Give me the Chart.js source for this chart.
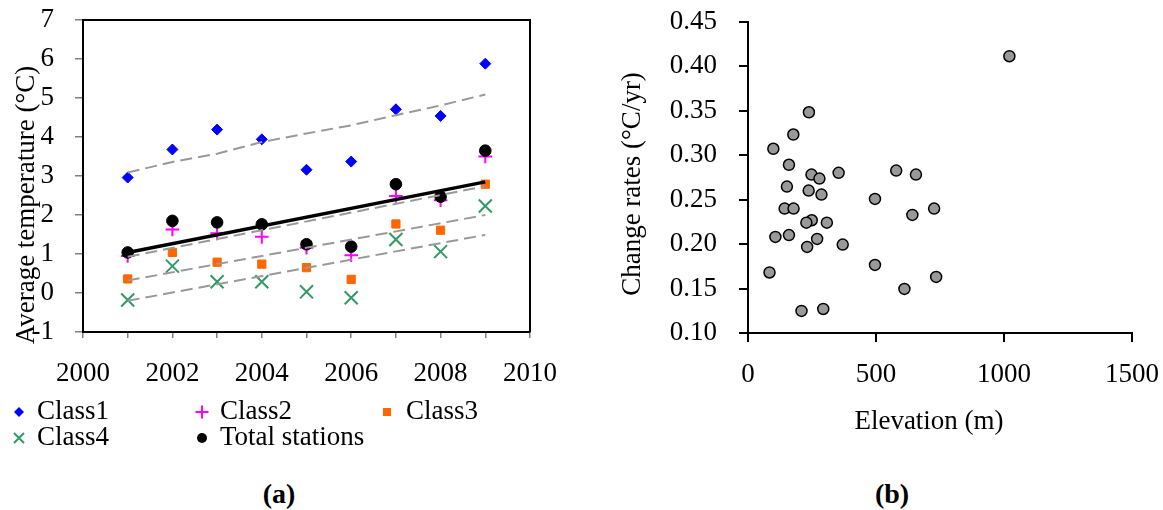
<!DOCTYPE html>
<html><head><meta charset="utf-8">
<script src="https://cdn.jsdelivr.net/npm/chart.js@4/dist/chart.umd.min.js"></script>
<style>
html,body{margin:0;padding:0;background:#fff;width:1163px;height:510px;overflow:hidden;font-family:"Liberation Serif","Times New Roman",serif;}
#wa{position:absolute;left:0;top:0;width:560px;height:400px;}
#wb{position:absolute;left:590px;top:0;width:573px;height:460px;}
.lt{position:absolute;font-size:27px;line-height:27px;color:#000;white-space:nowrap;}
.lm{position:absolute;}
.cap{position:absolute;font-weight:bold;font-size:28px;line-height:28px;transform:translate(-50%,-50%);}
</style></head><body>
<div id="wa"><canvas id="ca"></canvas></div>
<div id="wb"><canvas id="cb"></canvas></div>
<div id="legend"></div>
<div class="cap" style="left:279px;top:494px">(a)</div>
<div class="cap" style="left:892px;top:494px">(b)</div>
<script>
// ---------- Panel (a) data ----------
const years = [2001, 2002, 2003, 2004, 2005, 2006, 2007, 2008, 2009];
const class1 = [2.96, 3.68, 4.19, 3.94, 3.16, 3.37, 4.71, 4.54, 5.88];
const class2 = [0.95, 1.63, 1.53, 1.44, 1.16, 0.97, 2.49, 2.38, 3.50];
const class3 = [0.36, 1.04, 0.79, 0.74, 0.65, 0.35, 1.77, 1.61, 2.79];
const class4 = [-0.18, 0.69, 0.29, 0.29, 0.03, -0.12, 1.37, 1.06, 2.23];
const totalStations = [1.04, 1.85, 1.81, 1.76, 1.25, 1.19, 2.79, 2.47, 3.65];
// trend lines
const trend1 = [3.09, 3.36, 3.57, 3.87, 4.09, 4.30, 4.56, 4.81, 5.09];
const trendYears = [2001, 2009];
const trend2 = [0.93, 2.74];
const trend3 = [0.32, 2.00];
const trend4 = [-0.20, 1.49];
const trendTotal = [1.04, 2.85];
const seriesNames = ['Class1', 'Class2', 'Class3', 'Class4', 'Total stations'];
const yTicksA = [-1, 0, 1, 2, 3, 4, 5, 6, 7];
const xTicksA = [2000, 2002, 2004, 2006, 2008, 2010];

// ---------- Panel (b) data ----------
const elevation = [1021, 238, 177, 99, 160, 248, 279, 354, 579, 656, 152, 237, 287, 496, 143, 178, 727, 642, 249, 228, 308, 107, 160, 270, 231, 370, 84, 496, 735, 611, 209, 294];
const changeRate = [0.411, 0.348, 0.323, 0.307, 0.289, 0.278, 0.2735, 0.280, 0.2825, 0.278, 0.2645, 0.260, 0.2555, 0.2507, 0.2398, 0.2398, 0.2398, 0.2327, 0.2267, 0.224, 0.224, 0.208, 0.210, 0.2057, 0.1967, 0.1993, 0.168, 0.1765, 0.163, 0.1495, 0.1248, 0.127];
const yTicksB = [0.10, 0.15, 0.20, 0.25, 0.30, 0.35, 0.40, 0.45];
const xTicksB = [0, 500, 1000, 1500];

const FONT = '"Liberation Serif", "Times New Roman", serif';
Chart.defaults.font.family = FONT;
const toXY = (xs, ys) => xs.map((x, i) => ({x: x, y: ys[i]}));

const textPlugin = {
  id: 'texts',
  afterDraw(chart, args, opts) {
    const ctx = chart.ctx;
    (opts.items || []).forEach(t => {
      ctx.save();
      ctx.translate(t.x, t.y);
      if (t.rot) ctx.rotate(t.rot);
      ctx.font = t.size + 'px ' + FONT;
      ctx.fillStyle = '#000';
      ctx.textAlign = 'center';
      ctx.textBaseline = 'middle';
      ctx.fillText(t.text, 0, 0);
      ctx.restore();
    });
  }
};
const boxPlugin = {
  id: 'box',
  afterDatasetsDraw(chart, args, opts) {
    if (!opts.on) return;
    const a = chart.chartArea, ctx = chart.ctx;
    ctx.save();
    ctx.strokeStyle = '#000';
    ctx.lineWidth = 2;
    ctx.beginPath();
    ctx.moveTo(a.left, a.top); ctx.lineTo(a.right, a.top); ctx.lineTo(a.right, a.bottom);
    ctx.stroke();
    ctx.restore();
  }
};

const markerDs = (label, data, style, color, radius, order, extra) => Object.assign({
  label: label, data: toXY(years, data), pointStyle: style, pointRadius: radius,
  pointBackgroundColor: color, pointBorderColor: color, pointBorderWidth: 1,
  showLine: false, order: order
}, extra || {});
const trendDs = (xs, ys, dash, color, width) => ({
  data: toXY(xs, ys), showLine: true, pointRadius: 0, borderColor: color,
  borderWidth: width, borderDash: dash, fill: false, order: 0, tension: 0
});
const fixX = h => s => { s.height = h; s.paddingLeft = 0; s.paddingRight = 0; };
const fixY = w => s => { s.width = w; s.paddingTop = 0; s.paddingBottom = 0; };

new Chart(document.getElementById('ca'), {
  type: 'scatter',
  data: {
    datasets: [
      markerDs(seriesNames[0], class1, 'rectRot', '#0000FF', 5.5, 5),
      markerDs(seriesNames[2], class3, 'rect', '#FF6600', 5.8, 4),
      markerDs(seriesNames[3], class4, 'crossRot', '#339966', 9.2, 3, {pointBorderWidth: 2}),
      markerDs(seriesNames[1], class2, 'cross', '#FF00FF', 6.8, 2, {pointBorderWidth: 2}),
      markerDs(seriesNames[4], totalStations, 'circle', '#000000', 5.8, 1),
      trendDs(years, trend1, [12, 6], '#999999', 2),
      trendDs(trendYears, trend2, [12, 6], '#999999', 2),
      trendDs(trendYears, trend3, [12, 6], '#999999', 2),
      trendDs(trendYears, trend4, [12, 6], '#999999', 2),
      trendDs(trendYears, trendTotal, [], '#000000', 3.5)
    ]
  },
  options: {
    responsive: true, maintainAspectRatio: false, animation: false,
    layout: {padding: {top: 20, right: 30, left: 0, bottom: 0}},
    plugins: {
      legend: {display: false}, tooltip: {enabled: false},
      box: {on: true},
      texts: {items: [{text: 'Average temperature (°C)', x: 27, y: 205, rot: -Math.PI / 2, size: 27}]}
    },
    scales: {
      x: {
        type: 'linear', min: 2000, max: 2010,
        afterBuildTicks: s => { s.ticks = years.concat([2000, 2010]).sort((a, b) => a - b).map(v => ({value: v})); },
        ticks: {
          autoSkip: false, maxRotation: 0, padding: 20, color: '#000',
          font: {family: FONT, size: 27},
          callback: v => xTicksA.includes(v) ? String(v) : ''
        },
        grid: {drawOnChartArea: false, drawTicks: true, tickLength: 6, color: '#808080', lineWidth: 1.5},
        border: {color: '#000', width: 2},
        afterFit: fixX(68)
      },
      y: {
        min: -1, max: 7,
        afterBuildTicks: s => { s.ticks = yTicksA.map(v => ({value: v})); },
        ticks: {padding: 21, color: '#000', font: {family: FONT, size: 27}, callback: v => String(v)},
        grid: {drawOnChartArea: false, drawTicks: true, tickLength: 8, color: '#808080', lineWidth: 1.5},
        border: {color: '#000', width: 2},
        afterFit: fixY(83)
      }
    }
  },
  plugins: [textPlugin, boxPlugin]
});

new Chart(document.getElementById('cb'), {
  type: 'scatter',
  data: {
    datasets: [{
      data: toXY(elevation, changeRate), pointStyle: 'circle', pointRadius: 5.5,
      pointBackgroundColor: '#999999', pointBorderColor: '#000000', pointBorderWidth: 1.5
    }]
  },
  options: {
    responsive: true, maintainAspectRatio: false, animation: false,
    layout: {padding: {top: 21.5, right: 31, left: 0, bottom: 0}},
    plugins: {
      legend: {display: false}, tooltip: {enabled: false},
      texts: {items: [
        {text: 'Change rates (°C/yr)', x: 43, y: 184, rot: -Math.PI / 2, size: 27},
        {text: 'Elevation (m)', x: 339, y: 422, size: 27}
      ]}
    },
    scales: {
      x: {
        type: 'linear', min: 0, max: 1500,
        afterBuildTicks: s => { s.ticks = xTicksB.map(v => ({value: v})); },
        ticks: {maxRotation: 0, padding: 17, color: '#000', font: {family: FONT, size: 27}, callback: v => String(v)},
        grid: {drawOnChartArea: false, drawTicks: true, tickLength: 9, color: '#000', lineWidth: 2},
        border: {color: '#000', width: 2},
        afterFit: fixX(127)
      },
      y: {
        min: 0.10, max: 0.45,
        afterBuildTicks: s => { s.ticks = yTicksB.map(v => ({value: v})); },
        ticks: {padding: 22, color: '#000', font: {family: FONT, size: 27}, callback: v => Number(v).toFixed(2)},
        grid: {drawOnChartArea: false, drawTicks: true, tickLength: 9, color: '#000', lineWidth: 2},
        border: {color: '#000', width: 2},
        afterFit: fixY(158)
      }
    }
  },
  plugins: [textPlugin]
});

// ---------- HTML legend for panel (a) ----------
const legendPos = [
  {mx: 19, tx: 37, y: 412}, {mx: 202, tx: 220, y: 412}, {mx: 387, tx: 406, y: 412},
  {mx: 19, tx: 37, y: 438}, {mx: 202, tx: 220, y: 438}
];
const glyphs = [
  '<polygon points="10,5 15,10 10,15 5,10" fill="#0000FF"/>',
  '<path d="M10,3.5V16.5M3.5,10H16.5" stroke="#FF00FF" stroke-width="2" fill="none"/>',
  '<rect x="6" y="6" width="8" height="8" fill="#FF6600"/>',
  '<path d="M5,5L15,15M15,5L5,15" stroke="#339966" stroke-width="2" fill="none"/>',
  '<circle cx="10" cy="10" r="5" fill="#000"/>'
];
const leg = document.getElementById('legend');
seriesNames.forEach((name, k) => {
  const p = legendPos[k];
  const m = document.createElement('div');
  m.className = 'lm';
  m.style.left = (p.mx - 10) + 'px'; m.style.top = (p.y - 10) + 'px';
  m.innerHTML = '<svg width="20" height="20" viewBox="0 0 20 20">' + glyphs[k] + '</svg>';
  leg.appendChild(m);
  const t = document.createElement('div');
  t.className = 'lt';
  t.style.left = p.tx + 'px'; t.style.top = (p.y - 15) + 'px';
  t.textContent = name;
  leg.appendChild(t);
});
</script>
</body></html>
